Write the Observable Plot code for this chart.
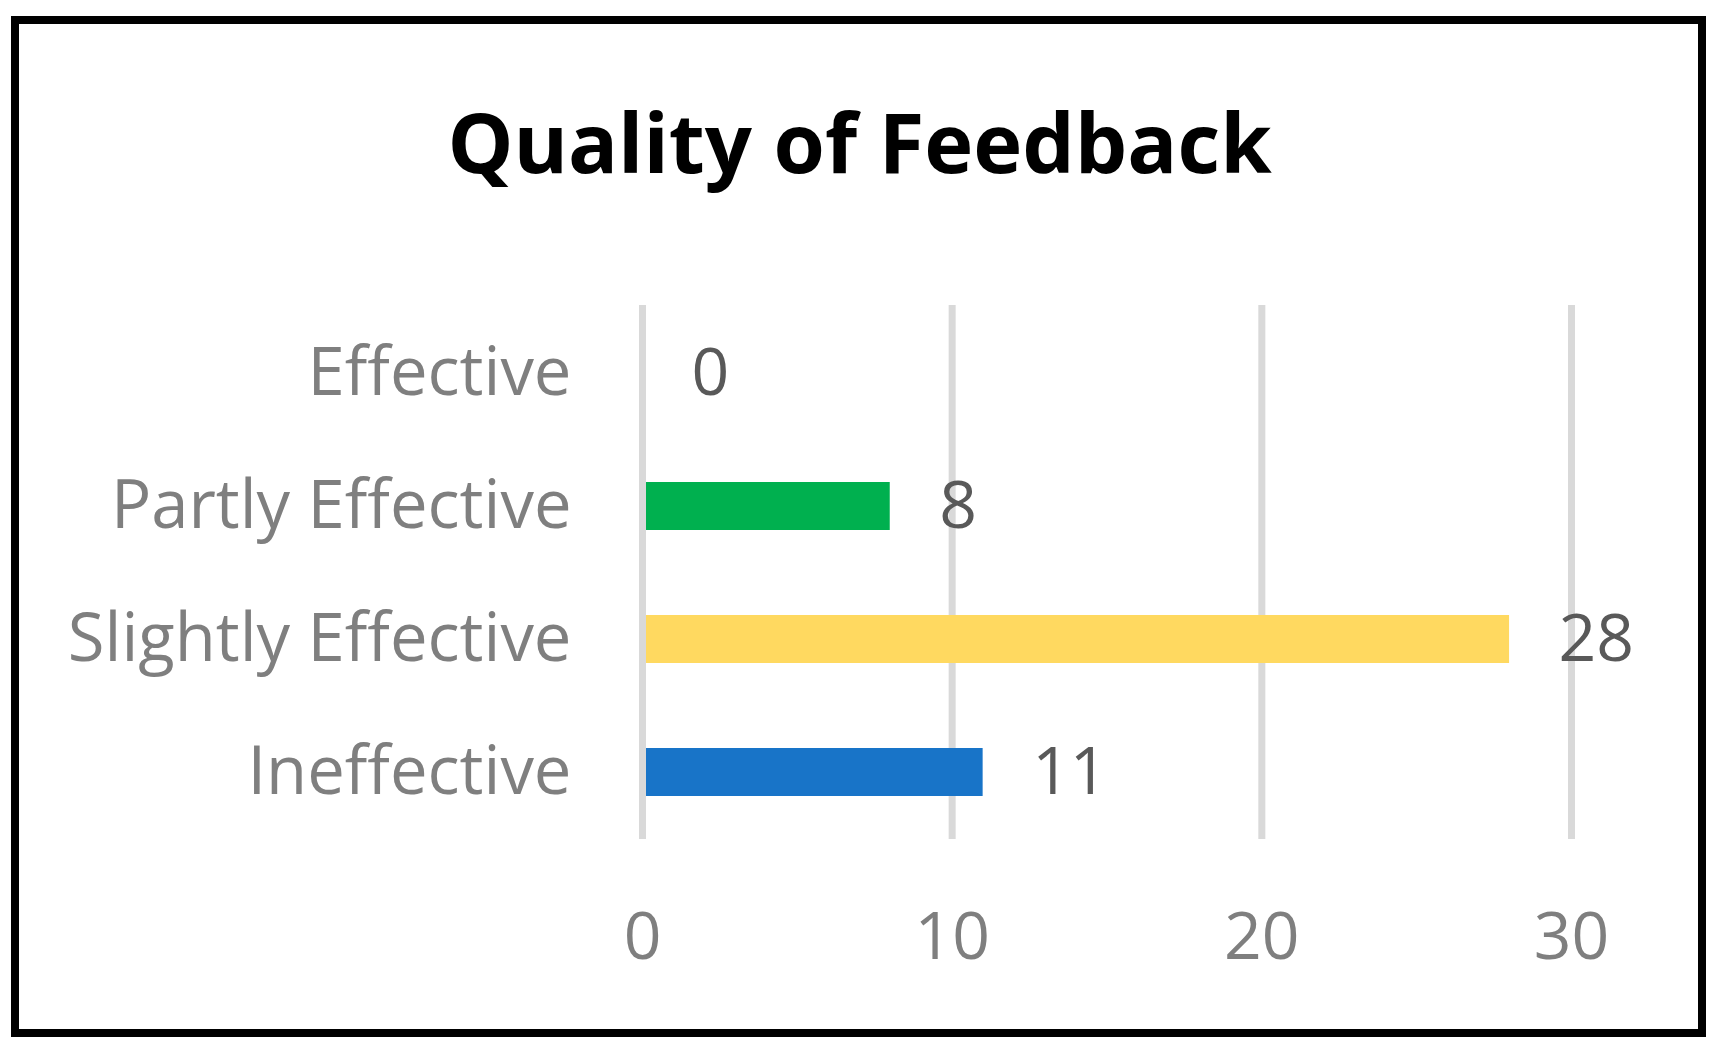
<!DOCTYPE html>
<html>
<head>
<meta charset="utf-8">
<script src="https://cdn.jsdelivr.net/npm/d3@7"></script>
<script src="https://cdn.jsdelivr.net/npm/@observablehq/plot@0.6"></script>
<style>
  html, body { margin: 0; padding: 0; background: #fff; }
  #wrap { position: relative; width: 1719px; height: 1050px; overflow: hidden; background: #fff; }
  #frame { position: absolute; left: 11px; top: 16px; width: 1695px; height: 1021px;
           border: 8px solid #000; box-sizing: border-box; }
  #title { position: absolute; left: 0; width: 1719px; top: 99px; text-align: center;
           font-family: "Open Sans", sans-serif; font-weight: 700; font-size: 83px;
           line-height: 1; color: #000; }
  #chart { position: absolute; left: 0; top: 0; }
</style>
</head>
<body>
<div id="wrap">
  <div id="frame"></div>
  <div id="chart"></div>
  <div id="title">Quality of Feedback</div>
</div>
<script>
const categories = ["Effective", "Partly Effective", "Slightly Effective", "Ineffective"];
const values = [0, 8, 28, 11];
const barColors = ["#4472C4", "#00B04F", "#FFD960", "#1874C8"];
const xTicks = [0, 10, 20, 30];

const data = categories.map((c, i) => ({category: c, value: values[i]}));

const chart = Plot.plot({
  width: 1719,
  height: 1050,
  marginLeft: 642,
  marginRight: 148,
  marginTop: 305,
  marginBottom: 211,
  style: {fontFamily: "Open Sans, sans-serif", background: "transparent"},
  x: {domain: [0, 30], ticks: xTicks, label: null},
  y: {domain: categories, paddingInner: 0.64, paddingOuter: 0.32, label: null},
  color: {domain: categories, range: barColors},
  marks: [
    Plot.gridX(xTicks, {stroke: "#d9d9d9", strokeWidth: 7, strokeOpacity: 1}),
    Plot.barX(data, {x: "value", y: "category", fill: "category", insetLeft: 4}),
    Plot.text(data, {x: "value", y: "category", text: d => String(d.value),
      textAnchor: "start", dx: 49, fontSize: 66, fill: "#595959"}),
    Plot.axisX({ticks: xTicks, tickSize: 0, tickPadding: 73, fontSize: 66,
      fill: "#7f7f7f", label: null}),
    Plot.axisY({tickSize: 0, tickPadding: 71, fontSize: 67, fill: "#7f7f7f", label: null})
  ]
});
document.getElementById("chart").appendChild(chart);
</script>
</body>
</html>
